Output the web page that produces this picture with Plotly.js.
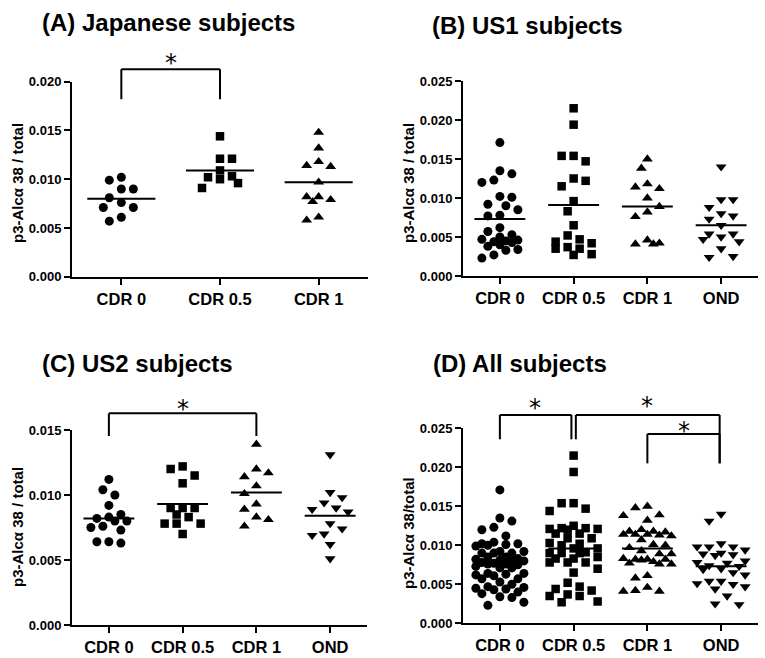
<!DOCTYPE html>
<html><head><meta charset="utf-8">
<script src="https://cdn.plot.ly/plotly-3.0.1.min.js"></script>
<style>html,body{margin:0;padding:0;background:#fff}</style>
</head><body><div id="chart" style="width:765px;height:658px"></div>
<script>
// ---------------- data ----------------
const cats3 = ['CDR 0', 'CDR 0.5', 'CDR 1'];
const cats4 = ['CDR 0', 'CDR 0.5', 'CDR 1', 'OND'];

// (A) Japanese subjects
const jpCDR0  = [0.0099, 0.0102, 0.0090, 0.0090, 0.0081, 0.0076, 0.0071, 0.0071, 0.0057, 0.0061];
const jpCDR05 = [0.0144, 0.0121, 0.0121, 0.0109, 0.0103, 0.0100, 0.0102, 0.0096, 0.0091];
const jpCDR1  = [0.0148, 0.0132, 0.0114, 0.0113, 0.0118, 0.0097, 0.0082, 0.0079, 0.0077, 0.0082, 0.0058, 0.0061];
const jpMeans = [0.0080, 0.0109, 0.0097];

// (B) US1 subjects
const us1CDR0  = [0.0171, 0.0135, 0.0131, 0.0123, 0.0120, 0.0102, 0.0101, 0.0090, 0.0092, 0.0085, 0.0078, 0.0077, 0.0062, 0.0057,
                  0.0053, 0.0050, 0.0047, 0.0045, 0.0046, 0.0044, 0.0043, 0.0040, 0.0038, 0.0034, 0.0033, 0.0027, 0.0023];
const us1CDR05 = [0.0215, 0.0194, 0.0154, 0.0154, 0.0147, 0.0125, 0.0122, 0.0115, 0.0096, 0.0083, 0.0065, 0.0052, 0.0047, 0.0044,
                  0.0042, 0.0037, 0.0035, 0.0035, 0.0028, 0.0027];
const us1CDR1  = [0.0150, 0.0138, 0.0114, 0.0118, 0.0112, 0.0100, 0.0089, 0.0082, 0.0076, 0.0042, 0.0041, 0.0041, 0.0046];
const us1OND   = [0.0140, 0.0098, 0.0098, 0.0088, 0.0080, 0.0077, 0.0073, 0.0065, 0.0047, 0.0054, 0.0054, 0.0050, 0.0044, 0.0035, 0.0024, 0.0025];
const us1Means = [0.0073, 0.0091, 0.0089, 0.0065];

// (C) US2 subjects
const us2CDR0  = [0.0112, 0.0104, 0.0100, 0.0092, 0.0085, 0.0083, 0.0082, 0.0080, 0.0080, 0.0075, 0.0073, 0.0076, 0.0064, 0.0063, 0.0064];
const us2CDR05 = [0.0122, 0.0120, 0.0115, 0.0109, 0.0090, 0.0090, 0.0090, 0.0085, 0.0083, 0.0078, 0.0078, 0.0078, 0.0070];
const us2CDR1  = [0.0139, 0.0120, 0.0117, 0.0114, 0.0107, 0.0101, 0.0093, 0.0089, 0.0083, 0.0081, 0.0076];
const us2OND   = [0.0131, 0.0102, 0.0098, 0.0094, 0.0089, 0.0087, 0.0090, 0.0078, 0.0074, 0.0069, 0.0070, 0.0062, 0.0051];
const us2Means = [0.0082, 0.0093, 0.0102, 0.0084];

// (D) All subjects = pooled groups
const allMeans = [0.0077, 0.0096, 0.0096, 0.0073];

const yTicksA = [0, 0.005, 0.010, 0.015, 0.020];
const yTicksB = [0, 0.005, 0.010, 0.015, 0.020, 0.025];
const yTicksC = [0, 0.005, 0.010, 0.015];

// ---------------- layout config ----------------
const W = 765, H = 658;
const FONT = 'Liberation Sans, Arial, Helvetica, sans-serif';
const symbols = ['circle', 'square', 'triangle-up', 'triangle-down'];
const msize = [9, 8.5, 9.5, 9.5];

const panels = [
  {title: '(A) Japanese subjects', ylab: 'p3-Alc\u03b1 38 / total', cats: cats3,
   groups: [jpCDR0, jpCDR05, jpCDR1], means: jpMeans, yTicks: yTicksA,
   xdom: [72/W, 368/W], ydom: [1-276.7/H, 1-81.7/H], maxOff: 18,
   tpos: [40, 23], lpos: [17, 183]},
  {title: '(B) US1 subjects', ylab: 'p3-Alc\u03b1 38 / total', cats: cats4,
   groups: [us1CDR0, us1CDR05, us1CDR1, us1OND], means: us1Means, yTicks: yTicksB,
   xdom: [463/W, 758/W], ydom: [1-276/H, 1-81/H], maxOff: 18,
   tpos: [430, 25], lpos: [408, 183]},
  {title: '(C) US2 subjects', ylab: 'p3-Alc\u03b1 38 / total', cats: cats4,
   groups: [us2CDR0, us2CDR05, us2CDR1, us2OND], means: us2Means, yTicks: yTicksC,
   xdom: [72/W, 367/W], ydom: [1-625/H, 1-430/H], maxOff: 18,
   tpos: [40, 363], lpos: [17, 527]},
  {title: '(D) All subjects', ylab: 'p3-Alc\u03b1 38/total', cats: cats4,
   groups: [jpCDR0.concat(us1CDR0, us2CDR0), jpCDR05.concat(us1CDR05, us2CDR05),
            jpCDR1.concat(us1CDR1, us2CDR1), us1OND.concat(us2OND)],
   means: allMeans, yTicks: yTicksB,
   xdom: [463/W, 758/W], ydom: [1-623.3/H, 1-428.3/H], maxOff: 25,
   tpos: [431, 363], lpos: [408, 533]}
];

// significance brackets: [panel, xLeft, xRight, yTop, yLeftBottom, yRightBottom, starX, starY]
const brackets = [
  [0, 0, 1, 0.02127, 0.0182, 0.0182, 0.5, 0.0219],
  [2, 0, 2, 0.01628, 0.01454, 0.01454, 1.0, 0.01665],
  [3, 0, 0.97, 0.02671, 0.02359, 0.02359, 0.47, 0.0276],
  [3, 1.03, 2.98, 0.02671, 0.02359, 0.02051, 2.0, 0.0279],
  [3, 2, 2.98, 0.02427, 0.02051, 0.02051, 2.5, 0.0246]
];

// beeswarm-style horizontal spreading (pixel space)
function swarm(vals, pxY, maxOff) {
  const order = vals.map((v, i) => i).sort((a, b) => vals[b] - vals[a]);
  const placed = [], off = new Array(vals.length);
  const D = 11, step = 6;
  order.forEach((i, n) => {
    const y = vals[i] * pxY;
    const sgn = n % 2 ? -1 : 1;
    const cands = [0];
    for (let k = 1; k * step <= maxOff; k++) cands.push(sgn * k * step, -sgn * k * step);
    let best = 0, bestScore = -1;
    for (const c of cands) {
      let minD = Infinity;
      for (const p of placed) { const d = Math.hypot(p.x - c, p.y - y); if (d < minD) minD = d; }
      if (minD >= D) { best = c; bestScore = Infinity; break; }
      if (minD > bestScore) { bestScore = minD; best = c; }
    }
    placed.push({x: best, y: y});
    off[i] = best;
  });
  return off;
}

const traces = [], shapes = [], annotations = [];
const layout = {
  width: W, height: H, margin: {l: 0, r: 0, t: 0, b: 0},
  paper_bgcolor: '#fff', plot_bgcolor: '#fff', showlegend: false,
  font: {family: FONT, color: '#000'}
};

panels.forEach((p, pi) => {
  const sfx = pi === 0 ? '' : String(pi + 1);
  const xa = 'x' + sfx, ya = 'y' + sfx;
  const n = p.cats.length;
  const xr = [-0.5, n - 0.5];
  const yMax = p.yTicks[p.yTicks.length - 1];
  const pxX = (p.xdom[1] - p.xdom[0]) * W / (xr[1] - xr[0]);
  const pxY = (p.ydom[1] - p.ydom[0]) * H / yMax;
  p.xr = xr; p.yMax = yMax;

  p.groups.forEach((g, gi) => {
    const off = swarm(g, pxY, p.maxOff);
    traces.push({
      type: 'scatter', mode: 'markers', xaxis: xa, yaxis: ya,
      x: g.map((v, i) => gi + off[i] / pxX), y: g,
      marker: {symbol: symbols[gi], size: msize[gi], color: '#000', line: {width: 0}},
      cliponaxis: false, hoverinfo: 'y'
    });
    traces.push({
      type: 'scatter', mode: 'lines', xaxis: xa, yaxis: ya,
      x: [gi - 0.345, gi + 0.345], y: [p.means[gi], p.means[gi]],
      line: {color: '#000', width: 2}, hoverinfo: 'skip'
    });
  });

  layout['xaxis' + sfx] = {
    domain: p.xdom, anchor: ya, range: xr, fixedrange: true,
    tickvals: p.cats.map((c, i) => i), ticktext: p.cats,
    showline: true, linecolor: '#000', linewidth: 2, mirror: false,
    ticks: 'outside', ticklen: 6, tickwidth: 2, tickcolor: '#000',
    showgrid: false, zeroline: false,
    tickfont: {family: FONT, size: 16.5, weight: 'bold', color: '#000'}
  };
  layout['yaxis' + sfx] = {
    domain: p.ydom, anchor: xa, range: [0, yMax], fixedrange: true,
    tickvals: p.yTicks, ticktext: p.yTicks.map(v => v.toFixed(3)),
    showline: true, linecolor: '#000', linewidth: 2,
    ticks: 'outside', ticklen: 6, tickwidth: 2, tickcolor: '#000',
    showgrid: false, zeroline: false,
    tickfont: {family: FONT, size: 13, weight: 'bold', color: '#000'}
  };

  annotations.push({
    xref: 'paper', yref: 'paper', x: p.tpos[0] / W, y: 1 - p.tpos[1] / H,
    xanchor: 'left', yanchor: 'middle', showarrow: false, text: p.title,
    font: {family: FONT, size: 24, weight: 'bold', color: '#000'}
  });
  annotations.push({
    xref: 'paper', yref: 'paper', x: p.lpos[0] / W, y: 1 - p.lpos[1] / H,
    xanchor: 'center', yanchor: 'middle', showarrow: false, textangle: -90, text: p.ylab,
    font: {family: FONT, size: 15, weight: 'bold', color: '#000'}
  });
});

brackets.forEach(b => {
  const p = panels[b[0]];
  const sfx = b[0] === 0 ? '' : String(b[0] + 1);
  const fx = v => (v - p.xr[0]) / (p.xr[1] - p.xr[0]);
  const fy = v => v / p.yMax;
  const base = {type: 'line', xref: 'x' + sfx + ' domain', yref: 'y' + sfx + ' domain',
                line: {color: '#000', width: 2}};
  shapes.push(Object.assign({}, base, {x0: fx(b[1]), x1: fx(b[2]), y0: fy(b[3]), y1: fy(b[3])}));
  shapes.push(Object.assign({}, base, {x0: fx(b[1]), x1: fx(b[1]), y0: fy(b[3]), y1: fy(b[4])}));
  shapes.push(Object.assign({}, base, {x0: fx(b[2]), x1: fx(b[2]), y0: fy(b[3]), y1: fy(b[5])}));
  annotations.push({
    xref: 'x' + sfx, yref: 'y' + sfx + ' domain', x: b[6], y: fy(b[7]),
    xanchor: 'center', yanchor: 'middle', showarrow: false, text: '*',
    font: {family: 'DejaVu Sans, sans-serif', size: 24, color: '#000'}
  });
});

layout.shapes = shapes;
layout.annotations = annotations;

Plotly.newPlot('chart', traces, layout, {displayModeBar: false, staticPlot: true});
</script>
</body></html>
